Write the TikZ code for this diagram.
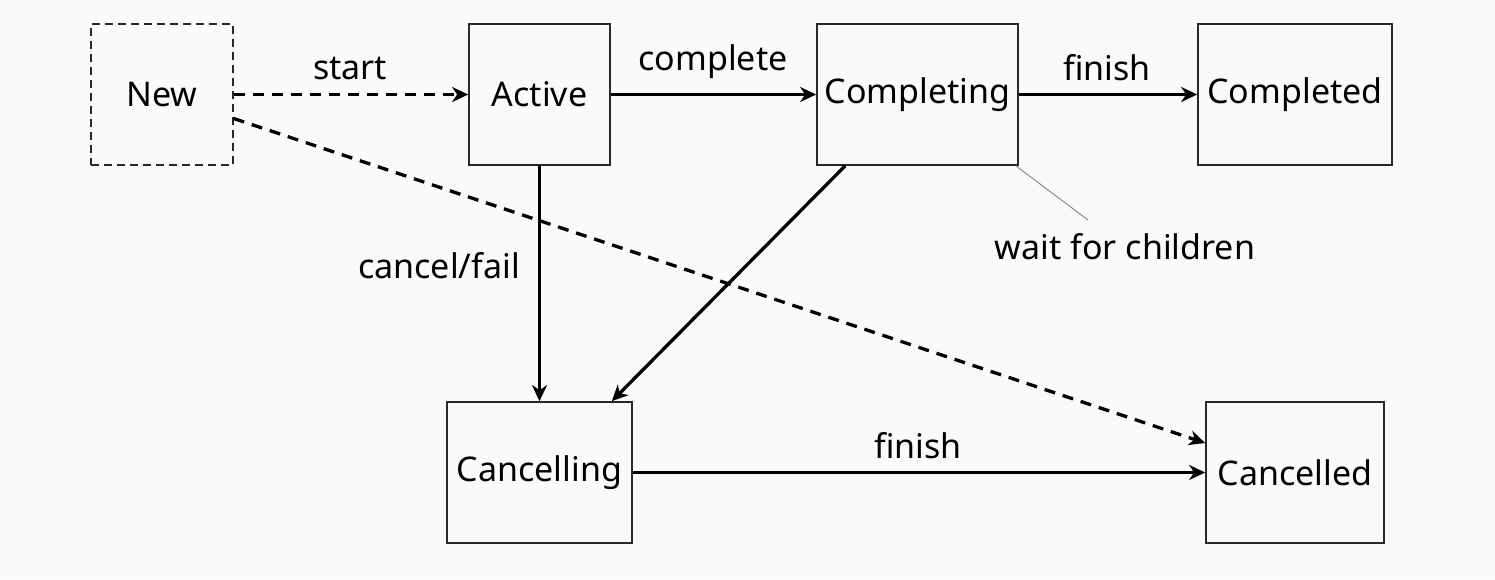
\documentclass[tikz,border=0pt]{standalone}
\usepackage{fontspec}
\setmainfont{Noto Sans}
\usetikzlibrary{arrows.meta,calc}
\definecolor{bg}{RGB}{250,250,250}
\definecolor{boxline}{RGB}{40,40,40}
\definecolor{noteline}{RGB}{140,140,140}
\begin{document}
\begin{tikzpicture}[x=1pt,y=-1pt,
  font=\fontsize{34}{40}\selectfont,
  state/.style={draw=boxline,line width=1.7pt,rectangle,inner sep=0pt,fill=bg},
  newstate/.style={state,dashed,dash pattern=on 8pt off 5pt,draw=boxline,line width=1.3pt},
  trans/.style={line width=3.3pt,-{Stealth[length=16pt,width=15pt,inset=5pt]}},
  dtrans/.style={trans,dash pattern=on 11pt off 8pt},
  lbl/.style={inner sep=0pt,anchor=center}]
\fill[bg] (0,0) rectangle (1495,579);
\useasboundingbox (0,0) rectangle (1495,579);
\node[newstate,minimum width=142pt,minimum height=141pt] (new) at (162,94.5) {New};
\node[state,minimum width=141pt,minimum height=141pt] (active) at (539.5,94.5) {Active};
\node[state,minimum width=201pt,minimum height=141pt] (completing) at (917.5,94.5) {Completing};
\node[state,minimum width=194pt,minimum height=141pt] (completed) at (1295,94.5) {Completed};
\node[state,minimum width=185pt,minimum height=141pt] (cancelling) at (539.5,472.5) {Cancelling};
\node[state,minimum width=178pt,minimum height=141pt] (cancelled) at (1295,472.5) {Cancelled};
\draw[dtrans] (new.east) -- (active.west);
\draw[trans] (active.east) -- (completing.west);
\draw[trans] (completing.east) -- (completed.west);
\draw[trans] (active.south) -- (cancelling.north);
\draw[trans] ($(completing.south west)+(29,0)$) -- ($(cancelling.north east)+(-21,0)$);
\draw[dtrans] ($(new.east)+(0,24)$) -- ($(cancelled.west)+(0,-29.5)$);
\draw[trans] (cancelling.east) -- (cancelled.west);
\coordinate (noteend) at (1088,220);
\draw[noteline,line width=1pt] ($(completing.south east)+(-3,0)$) -- (noteend);
\node[lbl] (lstart) at (350,68) {start};
\node[lbl] (lcomplete) at (713,62) {complete};
\node[lbl] (lfinish) at (1107,68) {finish};
\node[lbl] (lcancel) at (439,266) {cancel/fail};
\node[lbl] (lfinish2) at (918,446) {finish};
\node[lbl] (lwait) at (1125,247) {wait for children};
\end{tikzpicture}
\end{document}
